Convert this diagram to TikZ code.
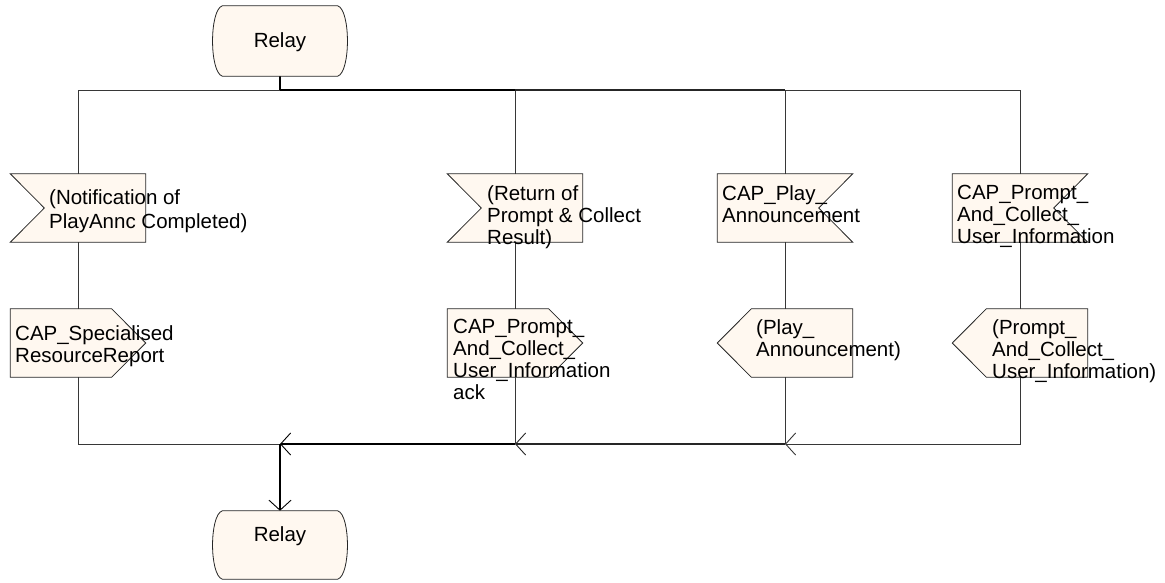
\documentclass[tikz,border=0pt]{standalone}
\usepackage{fontspec}
\setmainfont{Liberation Sans}
\usetikzlibrary{arrows.meta,calc}
\definecolor{cream}{RGB}{255,248,240}
\definecolor{linegray}{RGB}{55,55,55}
\begin{document}
\begin{tikzpicture}[x=1pt,y=-1pt,
  box/.style={minimum width=135pt,minimum height=68pt,inner sep=0pt,draw=none},
  relaybox/.style={minimum width=137pt,minimum height=70pt,inner sep=0pt,draw=none},
  shapeline/.style={draw=black!85,fill=cream,line width=0.8pt},
  flow/.style={draw=linegray,line width=0.8pt},
  trunkA/.style={draw=black,line width=2pt},
  trunkB/.style={draw=black!85,line width=1.4pt},
  barb/.style={-{Straight Barb[length=10pt,width=22pt,line width=0.9pt]}},
  txt/.style={anchor=north west,inner sep=0pt,align=left,font=\fontsize{20.5}{22}\selectfont},
  rtxt/.style={anchor=base,inner sep=0pt,font=\fontsize{20.5}{22}\selectfont},
]
\useasboundingbox (0,0) rectangle (1165,582);

% anchor nodes
\node[relaybox] (r1) at (280,41) {};
\node[relaybox,minimum height=68pt] (r2) at (280,545) {};
\node[box] (s1) at (78,208) {};
\node[box] (s2) at (515,208) {};
\node[box] (s3) at (785,208) {};
\node[box] (s4) at (1020,208) {};
\node[box] (s5) at (78,343) {};
\node[box] (s6) at (515,343) {};
\node[box] (s7) at (785,343) {};
\node[box] (s8) at (1020,343) {};

\coordinate (jt0) at (280,90);
\coordinate (jt2) at (515,90);
\coordinate (jt3) at (785,90);
\coordinate (jb0) at (280,444);
\coordinate (jb2) at (515,444);
\coordinate (jb3) at (785,444);

% connectors (top)
\draw[trunkA] (r1.south) -- (jt0);
\draw[flow] (jt0) -| (s1.north);
\draw[trunkA] (jt0) -- (jt2);
\draw[flow] (jt2) -- (s2.north);
\draw[trunkB] (jt2) -- (jt3);
\draw[flow] (jt3) -- (s3.north);
\draw[flow] (jt3) -| (s4.north);
% middle
\draw[flow] (s1.south) -- (s5.north);
\draw[flow] (s2.south) -- (s6.north);
\draw[flow] (s3.south) -- (s7.north);
\draw[flow] (s4.south) -- (s8.north);
% bottom
\draw[flow,barb] (s8.south) |- (jb3);
\draw[flow] (s7.south) -- (jb3);
\draw[trunkB,barb] (jb3) -- (jb2);
\draw[flow] (s6.south) -- (jb2);
\draw[trunkA,barb] (jb2) -- (jb0);
\draw[flow] (s5.south) |- (jb0);
\draw[trunkA,barb] (jb0) -- (r2.north);

% relay outlines
\foreach \r in {r1,r2}{
\draw[shapeline] ([xshift=11pt]\r.north west) -- ([xshift=-11pt]\r.north east)
  .. controls ([xshift=2pt,yshift=-4pt]\r.north east) and ([xshift=2pt,yshift=4pt]\r.south east) .. ([xshift=-11pt]\r.south east)
  -- ([xshift=11pt]\r.south west)
  .. controls ([xshift=-2pt,yshift=4pt]\r.south west) and ([xshift=-2pt,yshift=-4pt]\r.north west) .. cycle;
}
% input signals, notch left
\foreach \s in {s1,s2}{
\draw[shapeline] (\s.north west) -- (\s.north east) -- (\s.south east) -- (\s.south west) -- ([xshift=34pt]\s.west) -- cycle;
}
% notch right
\foreach \s in {s3,s4}{
\draw[shapeline] (\s.north west) -- (\s.north east) -- ([xshift=-34pt]\s.east) -- (\s.south east) -- (\s.south west) -- cycle;
}
% output, point right
\foreach \s in {s5,s6}{
\draw[shapeline] (\s.north west) -- ([xshift=-34pt]\s.north east) -- (\s.east) -- ([xshift=-34pt]\s.south east) -- (\s.south west) -- cycle;
}
% point left
\foreach \s in {s7,s8}{
\draw[shapeline] (\s.west) -- ([xshift=34pt]\s.north west) -- (\s.north east) -- (\s.south east) -- ([xshift=34pt]\s.south west) -- cycle;
}

% texts
\node[rtxt] (tr1) at (280,47) {Relay};
\node[rtxt] (tr2) at (280,541) {Relay};
\node[txt,font=\fontsize{20.5}{24}\selectfont] (t1) at (49,189) {(Notification of\\PlayAnnc Completed)};
\node[txt] (t2) at (487,185) {(Return of\\Prompt \& Collect\\Result)};
\node[txt] (t3) at (722,185) {CAP\_Play\_\\Announcement};
\node[txt] (t4) at (957,185) {CAP\_Prompt\_\\And\_Collect\_\\User\_Information};
\node[txt] (t5) at (15,325) {CAP\_Specialised\\ResourceReport};
\node[txt] (t6) at (453,319) {CAP\_Prompt\_\\And\_Collect\_\\User\_Information\\ack};
\node[txt] (t7) at (756,319) {(Play\_\\Announcement)};
\node[txt] (t8) at (992,319) {(Prompt\_\\And\_Collect\_\\User\_Information)};
\end{tikzpicture}
\end{document}
